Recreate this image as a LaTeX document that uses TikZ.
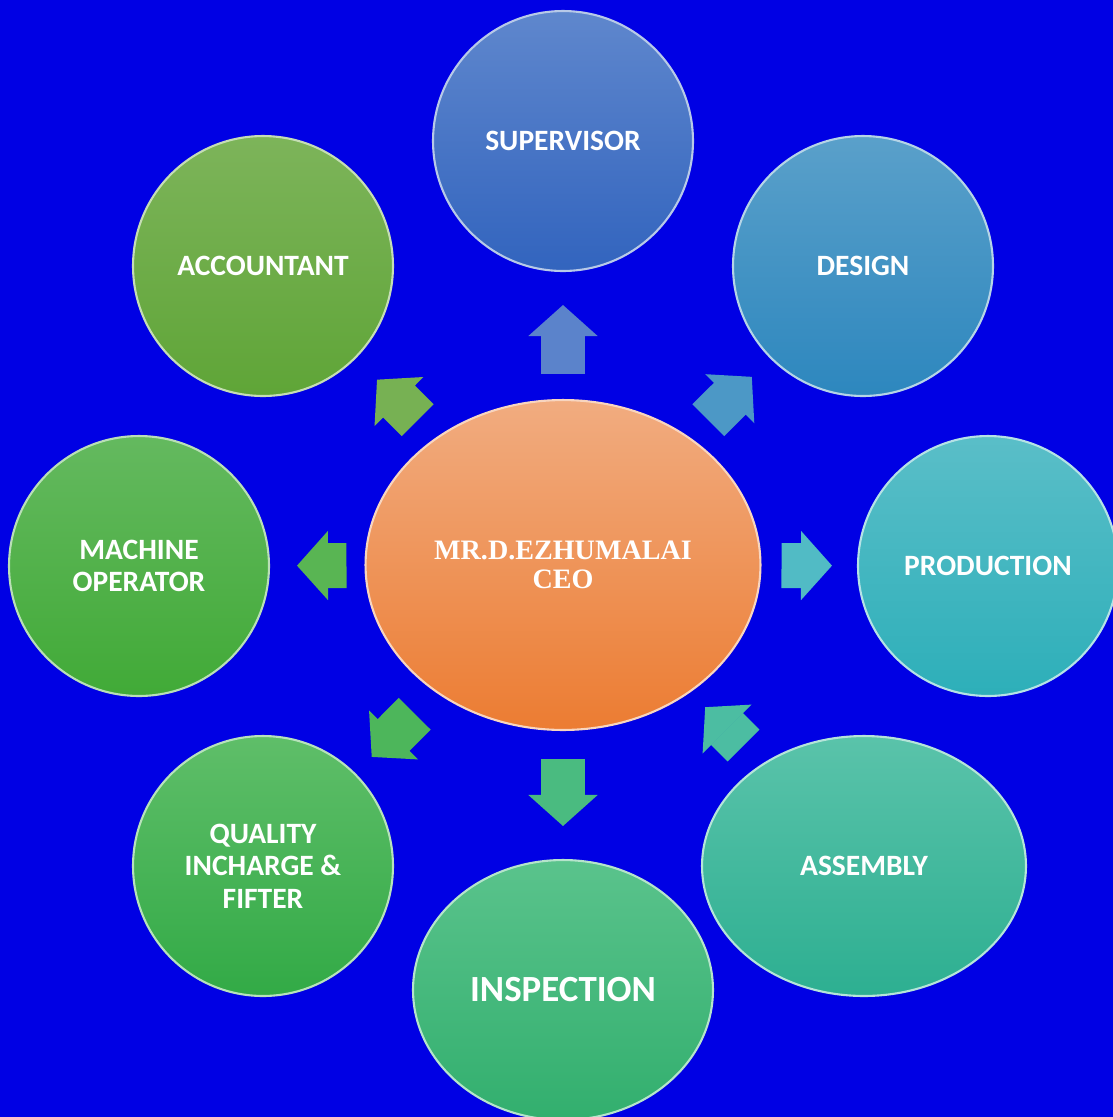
\documentclass[tikz,border=0pt]{standalone}
\usepackage{fontspec}
\setmainfont{Carlito}
\newfontfamily\ceofont{Liberation Serif}
\usetikzlibrary{shapes.geometric,arrows.meta}

\definecolor{bg}{RGB}{0,0,228}
\definecolor{ceoT}{RGB}{241,172,128}
\definecolor{ceoB}{RGB}{236,124,50}
\definecolor{supT}{RGB}{95,135,205}
\definecolor{supB}{RGB}{50,100,190}
\definecolor{desT}{RGB}{90,160,202}
\definecolor{desB}{RGB}{45,135,190}
\definecolor{proT}{RGB}{90,190,200}
\definecolor{proB}{RGB}{45,175,185}
\definecolor{asmT}{RGB}{90,195,170}
\definecolor{asmB}{RGB}{45,175,145}
\definecolor{insT}{RGB}{90,195,140}
\definecolor{insB}{RGB}{50,175,110}
\definecolor{quaT}{RGB}{95,190,105}
\definecolor{quaB}{RGB}{50,170,70}
\definecolor{macT}{RGB}{100,185,95}
\definecolor{macB}{RGB}{65,170,55}
\definecolor{accT}{RGB}{125,180,90}
\definecolor{accB}{RGB}{95,165,55}

\begin{document}
\begin{tikzpicture}[x=0.02cm,y=-0.02cm,
    bub/.style 2 args={circle,minimum size=5.2cm,inner sep=0pt,align=center,text=white,
      font=\fontsize{16.8}{18.6}\selectfont\bfseries,top color=#1,bottom color=#2,
      draw=#1!45!white,line width=1.2pt},
    arr/.style={line width=0.9cm,-{Triangle[width=1.38cm,length=0.62cm,line width=1pt]},
      shorten <=0.5cm,shorten >=0.55cm}]

      \useasboundingbox (0,0) rectangle (1113,1117);
      \fill[bg] (0,0) rectangle (1113,1117);

      \node[ellipse,minimum width=7.9cm,minimum height=6.6cm,inner sep=0pt,align=center,
        top color=ceoT,bottom color=ceoB,draw=ceoT!50!white,line width=1.2pt,text=white,
        font=\ceofont\fontsize{16}{16.5}\selectfont\bfseries] (ceo) at (563,565) {MR.D.EZHUMALAI\\CEO};

      \node[bub={supT}{supB}] (sup) at (563,141) {SUPERVISOR};
      \node[bub={desT}{desB}] (des) at (863,266) {DESIGN};
      \node[bub={proT}{proB}] (pro) at (988,566) {PRODUCTION};
      \node[bub={asmT}{asmB},ellipse,minimum width=6.48cm,minimum height=5.2cm] (asm) at (864,866) {ASSEMBLY};
      \node[bub={insT}{insB},ellipse,minimum width=6cm,minimum height=5.2cm,
        font=\fontsize{21}{23}\selectfont\bfseries] (ins) at (563,990) {INSPECTION};
      \node[bub={quaT}{quaB}] (qua) at (263,866) {QUALITY\\INCHARGE \&\\FIFTER};
      \node[bub={macT}{macB}] (mac) at (139,566) {MACHINE\\OPERATOR};
      \node[bub={accT}{accB}] (acc) at (263,266) {ACCOUNTANT};

      \draw[arr,draw=supT!90!supB,shorten >=0.66cm] (ceo) -- (sup);
      \draw[arr,draw=desT!70!desB,shorten >=0.52cm] (ceo) -- (des);
      \draw[arr,draw=proT!80!proB,shorten <=0.4cm,shorten >=0.5cm] (ceo) -- (pro);
      \draw[arr,draw=asmT!70!asmB,shorten <=0.52cm,shorten >=0.42cm] (asm) -- (ceo);
      \draw[arr,draw=insT!60!insB,shorten <=0.56cm,shorten >=0.66cm] (ceo) -- (ins);
      \draw[arr,draw=quaT!60!quaB,shorten <=0.6cm,shorten >=0.46cm] (ceo) -- (qua);
      \draw[arr,draw=macT!70!macB,shorten <=0.36cm,shorten >=0.54cm] (ceo) -- (mac);
      \draw[arr,draw=accT!80!accB,shorten >=0.6cm] (ceo) -- (acc);

    \end{tikzpicture}
\end{document}
